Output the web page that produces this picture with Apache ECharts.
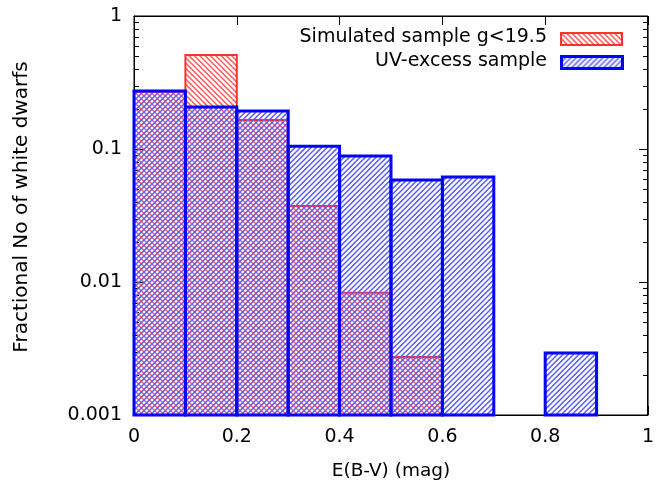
<!DOCTYPE html>
<html><head><meta charset="utf-8">
<script src="https://cdn.jsdelivr.net/npm/echarts@6/dist/echarts.min.js"></script>
<style>html,body{margin:0;padding:0;background:#fff}#c{width:662px;height:487px}</style>
</head><body><div id="c"></div>
<script>
// Bin edges (E(B-V), mag)
const binStart = [0.0, 0.1, 0.2, 0.3, 0.4, 0.5, 0.6, 0.7, 0.8, 0.9];
const binWidth = 0.1;
// Fractional number of white dwarfs per bin (null = empty bin)
const simulated = [0.27, 0.51, 0.165, 0.0373, 0.0083, 0.00273, null, null, null, null];
const uvExcess  = [0.273, 0.207, 0.193, 0.105, 0.0886, 0.0585, 0.0616, null, 0.00292, null];
const xTicks = [0, 0.2, 0.4, 0.6, 0.8, 1];
const yTickLabels = {0.001: '0.001', 0.01: '0.01', 0.1: '0.1', 1: '1'};
const majorY = [0.001, 0.01, 0.1, 1];
const minorMult = [2, 3, 4, 5, 6, 7, 8, 9];
const decades = [0.001, 0.01, 0.1];

const FONT = 'DejaVu Sans';

function hatch(color, dir, lw) {
  const S = 16, step = S / 3;
  const c = document.createElement('canvas');
  c.width = S; c.height = S;
  const ctx = c.getContext('2d');
  ctx.strokeStyle = color; ctx.lineWidth = lw;
  ctx.beginPath();
  if (dir === '/') {
    for (let k = 0; k <= 6; k++) { const cc = k * step; ctx.moveTo(cc + 2, -2); ctx.lineTo(cc - S - 2, S + 2); }
  } else {
    for (let k = -3; k <= 3; k++) { const cc = k * step; ctx.moveTo(cc - 2, -2); ctx.lineTo(cc + S + 2, S + 2); }
  }
  ctx.stroke();
  return c;
}
const redPat = {image: hatch('rgb(255,95,95)', '\\', 1.5), repeat: 'repeat'};
const bluePat = {image: hatch('rgb(95,95,245)', '/', 1.5), repeat: 'repeat'};

function toData(vals) {
  const out = [];
  vals.forEach((v, i) => { if (v != null) out.push([binStart[i], binStart[i] + binWidth, v]); });
  return out;
}

const yTicks = [];
majorY.forEach(v => yTicks.push([0.5, v, 9]));
decades.forEach(d => minorMult.forEach(m => yTicks.push([0.5, d * m, 5])));

function boxRender(fill, stroke, lw) {
  return function (params, api) {
    const p0 = api.coord([api.value(0), api.value(2)]);
    const p1 = api.coord([api.value(1), 0.001]);
    return {
      type: 'rect',
      shape: {x: p0[0], y: p0[1], width: p1[0] - p0[0], height: p1[1] - p0[1]},
      style: {fill: fill, stroke: stroke, lineWidth: lw}
    };
  };
}

const chart = echarts.init(document.getElementById('c'), null, {renderer: 'canvas'});
const axisLabel = {color: '#000', fontFamily: FONT, fontSize: 19};
chart.setOption({
  animation: false,
  grid: {left: 134, right: 14, top: 16, bottom: 72, show: true, borderColor: '#000', borderWidth: 1, backgroundColor: 'transparent'},
  xAxis: [{
    type: 'value', min: 0, max: 1, interval: 0.2, position: 'bottom',
    name: 'E(B-V) (mag)', nameLocation: 'middle', nameGap: 47,
    nameTextStyle: {color: '#000', fontFamily: FONT, fontSize: 18.5},
    axisLine: {show: true, lineStyle: {color: '#000', width: 1}},
    axisTick: {show: true, inside: true, length: 9, lineStyle: {color: '#000'}},
    axisLabel: Object.assign({margin: 13, formatter: v => String(+v.toFixed(1))}, axisLabel),
    splitLine: {show: false}
  }, {
    type: 'value', min: 0, max: 1, interval: 0.2, position: 'top',
    axisLine: {show: true, lineStyle: {color: '#000', width: 1}},
    axisTick: {show: true, inside: true, length: 9, lineStyle: {color: '#000'}},
    axisLabel: {show: false}, splitLine: {show: false}
  }],
  yAxis: [{
    type: 'log', logBase: 10, min: 0.001, max: 1, position: 'left',
    axisLine: {show: true, lineStyle: {color: '#000', width: 1}},
    axisTick: {show: false},
    axisLabel: Object.assign({margin: 12, formatter: v => {
      const k = Object.keys(yTickLabels).find(t => Math.abs(Math.log10(t) - Math.log10(v)) < 1e-6);
      return k ? yTickLabels[k] : '';
    }}, axisLabel),
    splitLine: {show: false}, minorTick: {show: false}
  }],
  series: [{
    type: 'custom', name: 'yticks', xAxisIndex: 0, yAxisIndex: 0, silent: true, clip: false, z: 1,
    data: yTicks,
    renderItem: function (params, api) {
      const v = api.value(1), len = api.value(2);
      const a = api.coord([0, v]), b = api.coord([1, v]);
      const y = Math.round(a[1]) + 0.5;
      const ls = {stroke: '#000', lineWidth: 1};
      return {type: 'group', children: [
        {type: 'line', shape: {x1: a[0], y1: y, x2: a[0] + len, y2: y}, style: ls},
        {type: 'line', shape: {x1: b[0], y1: y, x2: b[0] - len, y2: y}, style: ls}
      ]};
    }
  }, {
    type: 'custom', name: 'Simulated sample g<19.5', xAxisIndex: 0, yAxisIndex: 0, z: 2,
    data: toData(simulated), encode: {x: [0, 1], y: 2},
    renderItem: boxRender(redPat, '#ff3030', 2)
  }, {
    type: 'custom', name: 'UV-excess sample', xAxisIndex: 0, yAxisIndex: 0, z: 3,
    data: toData(uvExcess), encode: {x: [0, 1], y: 2},
    renderItem: boxRender(bluePat, '#0000ff', 3)
  }],
  graphic: [
    {type: 'rect', left: 647, top: 16, shape: {width: 1.2, height: 399}, style: {fill: '#000'}, z: 10},
    {type: 'text', x: 22, y: 207, rotation: Math.PI / 2, style: {text: 'Fractional No of white dwarfs', fill: '#000', font: '20px "DejaVu Sans"', align: 'center', verticalAlign: 'middle'}},
    {type: 'text', right: 115, top: 28, style: {text: 'Simulated sample g<19.5', fill: '#000', font: '19px "DejaVu Sans"', textAlign: 'right'}},
    {type: 'rect', left: 560, top: 32, shape: {width: 61, height: 12}, style: {fill: redPat, stroke: '#ff3030', lineWidth: 2}},
    {type: 'text', right: 115, top: 52, style: {text: 'UV-excess sample', fill: '#000', font: '19px "DejaVu Sans"', textAlign: 'right'}},
    {type: 'rect', left: 560, top: 55, shape: {width: 61, height: 12}, style: {fill: bluePat, stroke: '#0000ff', lineWidth: 3}}
  ]
});
</script></body></html>
